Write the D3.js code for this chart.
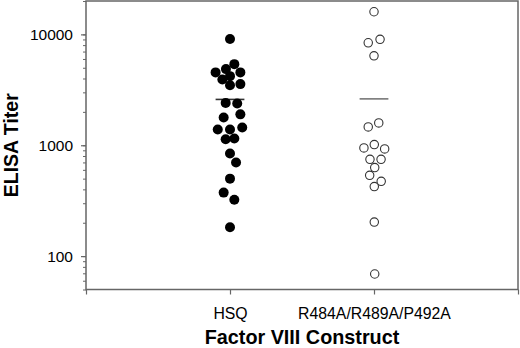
<!DOCTYPE html>
<html><head><meta charset="utf-8">
<script src="https://cdn.jsdelivr.net/npm/d3@7"></script>
<style>body{margin:0;background:#fff}svg{display:block}</style>
</head><body>
<svg id="c" width="520" height="348"></svg>
<script>
const categories = ["HSQ", "R484A/R489A/P492A"];
// HSQ titers and horizontal jitter (category units)
const hsqValues = [9070,5390,4860,4540,4540,4200,3920,3560,3480,2410,2380,1900,1780,1445,1386,1386,1150,1133,841,698,500,374,323,182];
const hsqJitter = [0,0.03,-0.028,-0.1,0.072,0,-0.053,0.072,0,-0.03,0.05,0.072,-0.044,0.085,-0.085,0,0.03,-0.03,0,0.042,0,-0.044,0.03,0];
const mutValues = [16000,9020,8400,6410,1590,1462,1015,946,926,747,747,629,536,473,424,203,69];
const mutJitter = [0,0.042,-0.04,0,0.033,-0.04,0.002,-0.07,0.074,-0.028,0.049,0.005,-0.03,0.05,0.002,0.002,0.005];
const means = [2590, 2620];
const yTicks = [100, 1000, 10000];
const yTitle = "ELISA Titer";
const xTitle = "Factor VIII Construct";

const svg = d3.select("#c");
const m = {l:86, r:518, t:1, b:289.5};
const x = d3.scaleLinear().domain([0, 3]).range([m.l, m.r]);
const y = d3.scaleLog().domain([50, 20000]).range([m.b, m.t]);
const font = "'Liberation Sans', Arial, Helvetica, sans-serif";
const frameCol = "#666";

// frame
svg.append("rect").attr("x", m.l).attr("y", m.t).attr("width", m.r - m.l).attr("height", m.b - m.t)
  .attr("fill", "none").attr("stroke", frameCol).attr("stroke-width", 1.5);

// y axis
const minor = [];
for (let d = 10; d <= 10000; d *= 10) for (let k = 1; k <= 9; k++) { const v = d * k; if (v >= 50 && v <= 20000) minor.push(v); }
const yAx = svg.append("g").attr("transform", `translate(${m.l},0)`)
  .call(d3.axisLeft(y).tickValues(minor).tickSize(3).tickFormat(""));
yAx.select(".domain").remove();
yAx.selectAll("line").attr("stroke", frameCol);
const yMaj = svg.append("g").attr("transform", `translate(${m.l},0)`)
  .call(d3.axisLeft(y).tickValues(yTicks).tickSize(5).tickPadding(8).tickFormat(d3.format("d")));
yMaj.select(".domain").remove();
yMaj.selectAll("line").attr("stroke", frameCol).attr("stroke-width", 1.2);
yMaj.selectAll("text").attr("font-family", font).attr("font-size", 15.5).attr("fill", "#000");

// x axis
const xAx = svg.append("g").attr("transform", `translate(0,${m.b})`)
  .call(d3.axisBottom(x).tickValues([0,1,2,3]).tickSize(5).tickPadding(13).tickFormat(d => categories[d-1] || ""));
xAx.select(".domain").remove();
xAx.selectAll("line").attr("stroke", frameCol).attr("stroke-width", 1.2);
xAx.selectAll("text").attr("font-family", font).attr("font-size", 15.8).attr("fill", "#000");

// titles
svg.append("text").attr("transform", `translate(17.5,${(m.t+m.b)/2}) rotate(-90)`)
  .attr("text-anchor", "middle").attr("font-family", font).attr("font-weight", "bold")
  .attr("font-size", 19.5).text(yTitle);
svg.append("text").attr("x", (m.l+m.r)/2).attr("y", 343.5).attr("text-anchor", "middle")
  .attr("font-family", font).attr("font-weight", "bold").attr("font-size", 19.8).text(xTitle);

// mean lines
svg.selectAll(".mean").data(means).join("line")
  .attr("x1", (d,i) => x(i + 1 - 0.1)).attr("x2", (d,i) => x(i + 1 + 0.1))
  .attr("y1", d => y(d)).attr("y2", d => y(d))
  .attr("stroke", (d,i) => i === 0 ? "#333" : "#777").attr("stroke-width", 1.6);

// points
svg.selectAll(".hsq").data(hsqValues).join("circle")
  .attr("cx", (d,i) => x(1 + hsqJitter[i])).attr("cy", d => y(d)).attr("r", 5)
  .attr("fill", "#000");
svg.selectAll(".mut").data(mutValues).join("circle")
  .attr("cx", (d,i) => x(2 + mutJitter[i])).attr("cy", d => y(d)).attr("r", 4.2)
  .attr("fill", "#fff").attr("stroke", "#333").attr("stroke-width", 1.1);
</script>
</body></html>
